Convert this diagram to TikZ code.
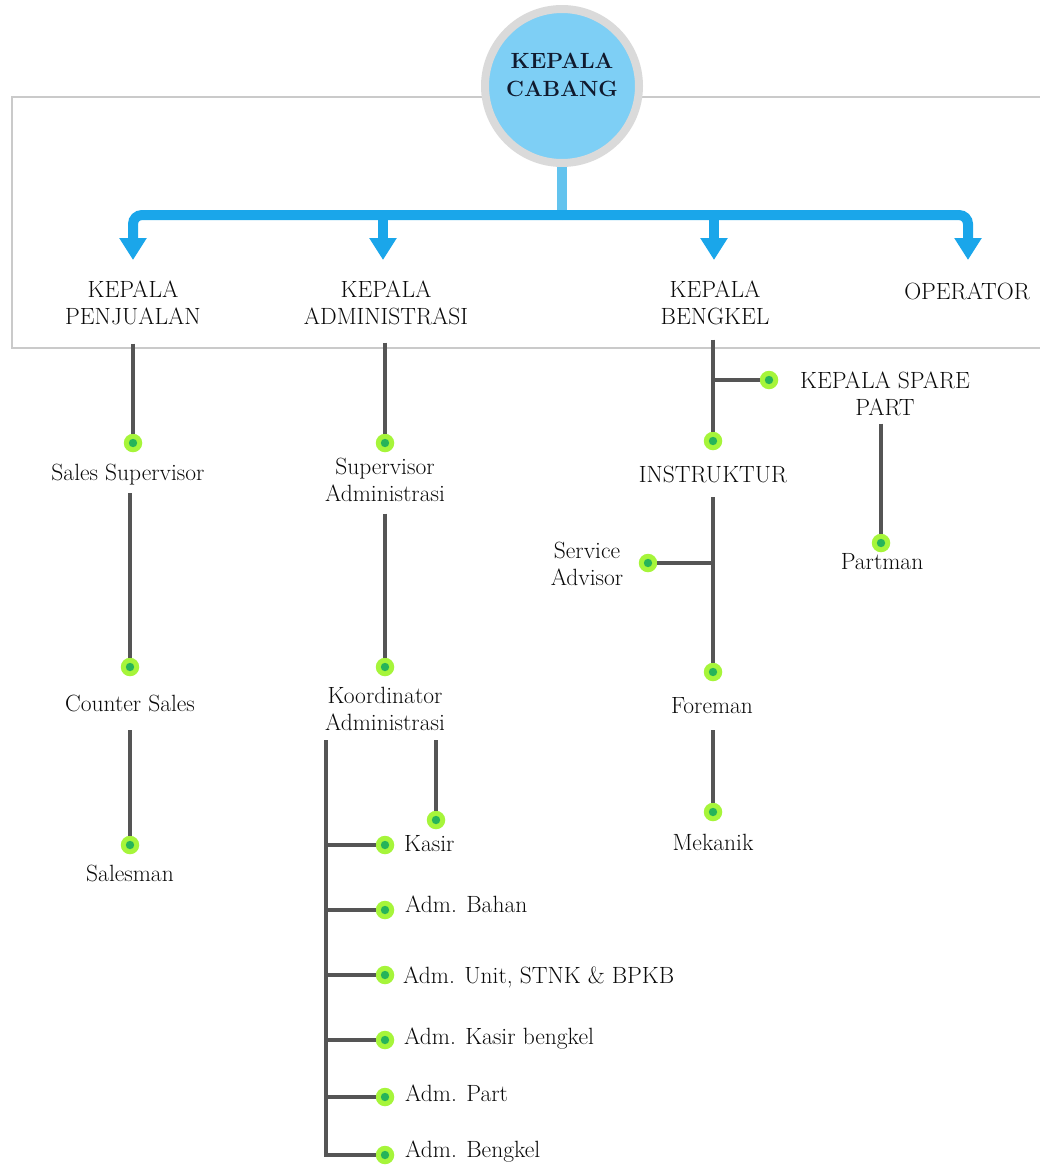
\documentclass[tikz,border=0pt]{standalone}
\usetikzlibrary{arrows.meta}
\definecolor{barblue}{HTML}{1AA6EA}
\definecolor{stemblue}{HTML}{62C3EE}
\definecolor{circfill}{HTML}{7ECFF5}
\definecolor{circring}{HTML}{DADADA}
\definecolor{framegray}{HTML}{CACACA}
\definecolor{conngray}{HTML}{555555}
\definecolor{dotlime}{HTML}{A6F53A}
\definecolor{dotgreen}{HTML}{27B45A}
\definecolor{txt}{HTML}{0A0A0A}
\definecolor{titletxt}{HTML}{101A2E}
\begin{document}
\begin{tikzpicture}[x=1pt,y=-1pt,
  lbl/.style={inner sep=0pt, font=\fontsize{23.5}{27}\selectfont, text=txt, align=center},
  one/.style={inner sep=0pt, font=\fontsize{23.5}{27}\selectfont, text=txt, text height=17pt, text depth=5pt},
  leftlbl/.style={one, anchor=west},
  conn/.style={draw=conngray, line width=3.6pt},
  gdot/.style={circle, fill=dotlime, minimum size=18.5pt, inner sep=0pt,
    path picture={\fill[dotgreen] (path picture bounding box.center) circle (4.2pt);}},
  bar/.style={draw=barblue, line width=10pt, rounded corners=9pt, -{Triangle[width=26pt,length=22pt]}},
]
\useasboundingbox (0,0) rectangle (1040,1165);

% frame
\draw[framegray, line width=1.5pt] (1050,97) -- (12,97) -- (12,348) -- (1050,348);

% head
\coordinate (bj) at (562,215);
\coordinate (t1) at (133,260);
\coordinate (t2) at (383,260);
\coordinate (t3) at (714,260);
\coordinate (t4) at (968,260);
\draw[stemblue, line width=10pt] (562,160) -- (bj);
\node[circle, draw=circring, line width=8pt, fill=circfill, minimum size=154pt, inner sep=0pt,
  font=\bfseries\fontsize{22}{28}\selectfont, text=titletxt, align=center] (kc) at (562,86) {KEPALA\\CABANG\\[-6pt]};
\draw[bar] (bj) -| (t1);
\draw[bar] (bj) -| (t4);
\draw[bar] (t2 |- bj) -- (t2);
\draw[bar] (t3 |- bj) -- (t3);

% level 1 labels
\node[lbl] (kp) at (133,302.5) {KEPALA\\PENJUALAN};
\node[lbl] (ka) at (386,302.5) {KEPALA\\ADMINISTRASI};
\node[lbl] (kb) at (715,302.5) {KEPALA\\BENGKEL};
\node[one] (op) at (967,293) {OPERATOR};

% column 1
\node[gdot] (d1) at (133,443) {};
\node[one] (ss) at (128,474) {Sales Supervisor};
\node[gdot] (d2) at (130,667) {};
\node[one] (cs) at (130,705) {Counter Sales};
\node[gdot] (d3) at (130,845) {};
\node[one] (sm) at (130,875) {Salesman};
\draw[conn, shorten <=19pt] (d1 |- kp.south) -- (d1);
\draw[conn, shorten <=8pt] (d2 |- ss.south) -- (d2);
\draw[conn, shorten <=14pt] (d3 |- cs.south) -- (d3);

% column 2
\node[gdot] (e1) at (385,443) {};
\node[lbl] (sa) at (385,479.5) {Supervisor\\Administrasi};
\node[gdot] (e2) at (385,667) {};
\node[lbl] (ko) at (385,708.5) {Koordinator\\Administrasi};
\draw[conn, shorten <=18pt] (e1 |- ka.south) -- (e1);
\draw[conn, shorten <=12pt] (e2 |- sa.south) -- (e2);

\coordinate (kl) at (326,740);
\coordinate (kr) at (436,740);
\node[gdot] (k0) at (436,820) {};
\node[gdot] (k1) at (385,845) {};
\node[gdot] (k2) at (385,910) {};
\node[gdot] (k3) at (385,975) {};
\node[gdot] (k4) at (385,1040) {};
\node[gdot] (k5) at (385,1097) {};
\node[gdot] (k6) at (385,1155) {};
\node[leftlbl] (l1) at (404,845) {Kasir};
\node[leftlbl] (l2) at (405,906) {Adm. Bahan};
\node[leftlbl] (l3) at (403,977) {Adm. Unit, STNK \& BPKB};
\node[leftlbl] (l4) at (404,1038) {Adm. Kasir bengkel};
\node[leftlbl] (l5) at (405,1095) {Adm. Part};
\node[leftlbl] (l6) at (405,1151) {Adm. Bengkel};
\draw[conn] (kr) -- (k0);
\draw[conn] (kl) |- (k6);
\draw[conn] (kl |- k1) -- (k1);
\draw[conn] (kl |- k2) -- (k2);
\draw[conn] (kl |- k3) -- (k3);
\draw[conn] (kl |- k4) -- (k4);
\draw[conn] (kl |- k5) -- (k5);

% column 3
\node[gdot] (f1) at (713,441) {};
\node[gdot] (fk) at (769,380) {};
\node[lbl] (ksp) at (885,393.5) {KEPALA SPARE\\PART};
\node[gdot] (fp) at (881,543) {};
\node[one] (pm) at (882,563) {Partman};
\node[one] (ins) at (713,476) {INSTRUKTUR};
\node[gdot] (fs) at (648,563) {};
\node[lbl] (sadv) at (587,563.5) {Service\\Advisor};
\node[gdot] (f2) at (713,672) {};
\node[one] (fm) at (712,707) {Foreman};
\node[gdot] (f3) at (713,812) {};
\node[one] (mk) at (713,844) {Mekanik};
\draw[conn, shorten <=15pt] (f1 |- kb.south) -- (f1);
\draw[conn] (f1 |- fk) -- (fk);
\draw[conn, shorten <=8pt] (fp |- ksp.south) -- (fp);
\draw[conn, shorten <=10pt] (f2 |- ins.south) -- (f2);
\draw[conn] (f2 |- fs) -- (fs);
\draw[conn, shorten <=12pt] (f3 |- fm.south) -- (f3);
\end{tikzpicture}
\end{document}
